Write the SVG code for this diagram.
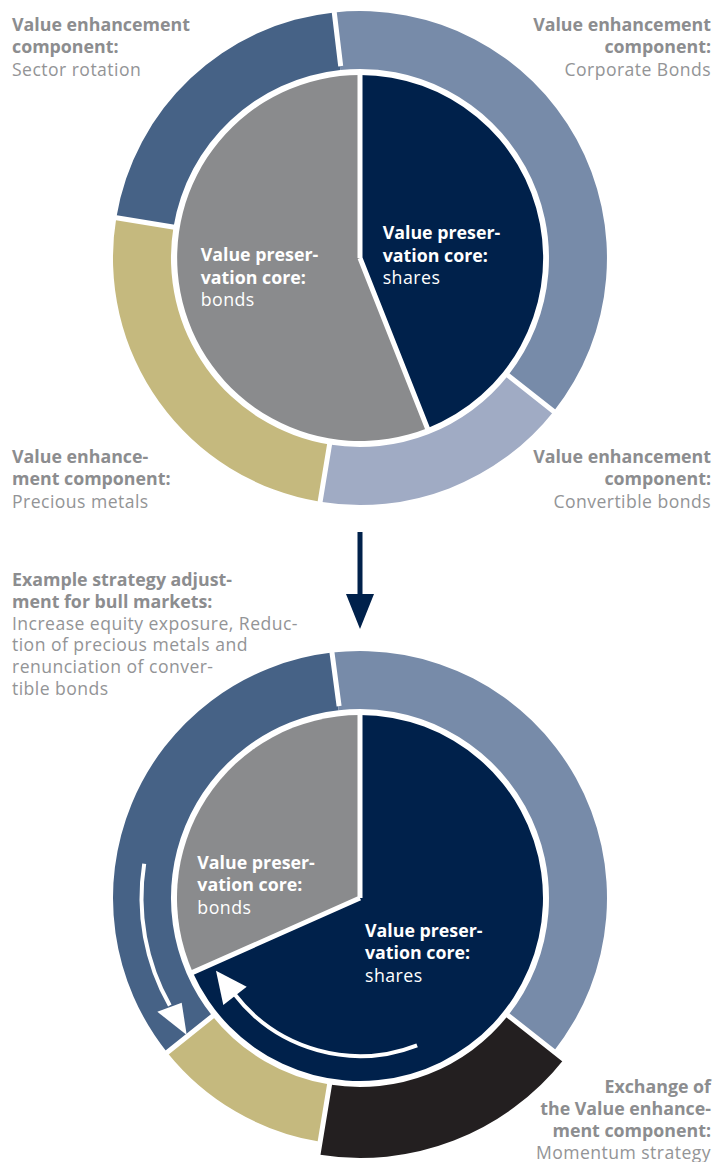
<svg xmlns="http://www.w3.org/2000/svg" width="726" height="1162" viewBox="0 0 726 1162">
<defs>
<style>
.lbl{font-family:"Open Sans","Noto Sans","Liberation Sans",sans-serif;font-size:17.8px;fill:#8c8d8f}
.b{font-weight:700}
.r{font-weight:400;font-size:17.6px;fill:#939496;letter-spacing:0.45px}
.in{font-family:"Open Sans","Noto Sans","Liberation Sans",sans-serif;font-size:17.8px;fill:#ffffff}
.in.r{fill:#ffffff}
.end{text-anchor:end}
.div{stroke:#ffffff;stroke-width:5;fill:none}
.warr{stroke:#ffffff;stroke-width:4;fill:none}
</style>
</defs>
<rect width="726" height="1162" fill="#ffffff"/>

<!-- TOP DIAGRAM -->
<g id="top-sector-rotation">
<path d="M116.3,217.7 A247,247 0 0 1 334.2,12.4 L340.25,70.04 A189,189 0 0 0 173.5,227.1 Z" fill="#466286"/>
<text class="lbl b" x="12" y="31">Value enhancement</text>
<text class="lbl b" x="12" y="53">component:</text>
<text class="lbl r" x="12" y="76">Sector rotation</text>
</g>
<g id="top-corporate-bonds">
<path d="M334.2,12.4 A247,247 0 0 1 553.6,411.4 L508.1,375.4 A189,189 0 0 0 340.25,70.04 Z" fill="#778ba9"/>
<text class="lbl b end" x="711" y="31">Value enhancement</text>
<text class="lbl b end" x="711" y="53">component:</text>
<text class="lbl r end" x="711" y="76">Corporate Bonds</text>
</g>
<g id="top-convertible-bonds">
<path d="M553.6,411.4 A247,247 0 0 1 320.1,501.8 L329.5,444.5 A189,189 0 0 0 508.1,375.4 Z" fill="#a0abc4"/>
<text class="lbl b end" x="711" y="463">Value enhancement</text>
<text class="lbl b end" x="711" y="485">component:</text>
<text class="lbl r end" x="711" y="508">Convertible bonds</text>
</g>
<g id="top-precious-metals">
<path d="M320.1,501.8 A247,247 0 0 1 116.3,217.7 L173.5,227.1 A189,189 0 0 0 329.5,444.5 Z" fill="#c5b97e"/>
<text class="lbl b" x="12" y="463">Value enhance-</text>
<text class="lbl b" x="12" y="485">ment component:</text>
<text class="lbl r" x="12" y="508">Precious metals</text>
</g>
<g id="top-core-shares">
<path d="M360,258 L360,75 A183,183 0 0 1 427.4,428.2 Z" fill="#00214b"/>
<text class="in b" x="382.7" y="239">Value preser-</text>
<text class="in b" x="382.7" y="261.5">vation core:</text>
<text class="in r" x="382.7" y="284">shares</text>
</g>
<g id="top-core-bonds">
<path d="M360,258 L427.4,428.2 A183,183 0 1 1 360,75 Z" fill="#8a8b8d"/>
<text class="in b" x="200.7" y="261">Value preser-</text>
<text class="in b" x="200.7" y="283.5">vation core:</text>
<text class="in r" x="200.7" y="306">bonds</text>
</g>
<g id="top-dividers">
<path class="div" d="M360,258 L360,70 M360,258 L428.9,432 M333.9,9.4 L340.7,66.1 M556,413.2 L505,373 M319.6,504.8 L330.2,440.6 M113.3,217.2 L177.5,227.8"/>
</g>

<!-- BOTTOM DIAGRAM -->
<g id="bottom-sector-rotation">
<path d="M167.2,1052.4 A247,247 0 0 1 332.0,652.6 L338.6,710.2 A189,189 0 0 0 212.5,1016.2 Z" fill="#466286"/>
</g>
<g id="bottom-corporate-bonds">
<path d="M332.0,652.6 A247,247 0 0 1 553.6,1051.4 L508.1,1015.4 A189,189 0 0 0 338.6,710.2 Z" fill="#778ba9"/>
</g>
<g id="bottom-momentum">
<path d="M563.8,1059.5 A260,260 0 0 1 318.0,1154.6 L329.5,1084.5 A189,189 0 0 0 508.1,1015.4 Z" fill="#231f20"/>
<text class="lbl b end" x="711" y="1093">Exchange of</text>
<text class="lbl b end" x="711" y="1115">the Value enhance-</text>
<text class="lbl b end" x="711" y="1137">ment component:</text>
<text class="lbl r end" x="711" y="1159">Momentum strategy</text>
</g>
<g id="bottom-precious-metals">
<path d="M320.1,1141.8 A247,247 0 0 1 167.2,1052.4 L212.5,1016.2 A189,189 0 0 0 329.5,1084.5 Z" fill="#c5b97e"/>
</g>
<g id="bottom-core-shares">
<path d="M360,898 L360,715 A183,183 0 1 1 192.8,972.4 Z" fill="#00214b"/>
<text class="in b" x="365" y="937">Value preser-</text>
<text class="in b" x="365" y="959">vation core:</text>
<text class="in r" x="365" y="982">shares</text>
</g>
<g id="bottom-core-bonds">
<path d="M360,898 L192.8,972.4 A183,183 0 0 1 360,715 Z" fill="#8a8b8d"/>
<text class="in b" x="197.3" y="869">Value preser-</text>
<text class="in b" x="197.3" y="891">vation core:</text>
<text class="in r" x="197.3" y="914">bonds</text>
</g>
<g id="bottom-dividers">
<path class="div" d="M360,898 L360,710 M360,898 L188.2,974.4 M331.6,649.6 L339.1,706.2 M566.2,1061.3 L505,1013 M317.5,1157.6 L330.2,1080.6 M164.9,1054.3 L215.6,1013.7"/>
</g>

<!-- CONNECTORS -->
<g id="connectors">
<rect x="357.5" y="532" width="5" height="64" fill="#00214b"/>
<polygon points="346,594 374,594 360,629" fill="#00214b"/>
<path class="warr" d="M144.2,863.8 A218.5,218.5 0 0 0 169.8,1005.6"/>
<polygon points="186.7,1035 157.3,1011.7 181.7,1002.7" fill="#ffffff"/>
<path class="warr" d="M417.1,1045.3 A158,158 0 0 1 234.6,994.2"/>
<polygon points="216,970.7 223.3,1005 246.7,986.7" fill="#ffffff"/>
</g>

<g id="strategy-note">
<text class="lbl b" x="12" y="586">Example strategy adjust-</text>
<text class="lbl b" x="12" y="608">ment for bull markets:</text>
<text class="lbl r" x="12" y="629.5">Increase equity exposure, Reduc-</text>
<text class="lbl r" x="12" y="651">tion of precious metals and</text>
<text class="lbl r" x="12" y="673">renunciation of conver-</text>
<text class="lbl r" x="12" y="695">tible bonds</text>
</g>
</svg>
